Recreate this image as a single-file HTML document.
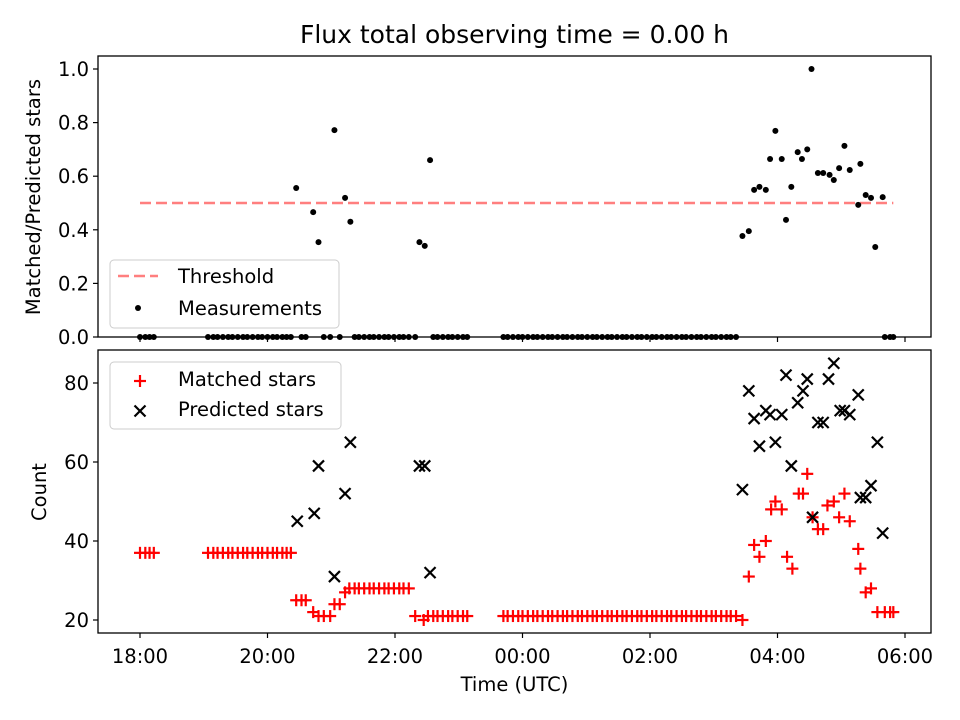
<!DOCTYPE html>
<html><head><meta charset="utf-8"><style>
html,body{margin:0;padding:0;background:#fff}
svg{display:block;font-family:"DejaVu Sans","Liberation Sans",sans-serif}
</style></head><body>
<svg id="chart" width="960" height="720" viewBox="0 0 960 720" xmlns="http://www.w3.org/2000/svg">
<rect width="960" height="720" fill="#fff"/>
<text x="514.5" y="43" font-size="25" text-anchor="middle" fill="#000">Flux total observing time = 0.00 h</text>
<g id="topPanel"></g><g id="botPanel"></g>
</svg>
<script>
// times in minutes after 18:00 UTC
const xTickMinutes=[0,120,240,360,480,600,720];
const xTickLabels=["18:00","20:00","22:00","00:00","02:00","04:00","06:00"];
const topTicks=[0,0.2,0.4,0.6,0.8,1.0];
const topTickLabels=["0.0","0.2","0.4","0.6","0.8","1.0"];
const botTicks=[20,40,60,80];
const threshold=0.5;
const thresholdRange=[0,709];
const ratioTimes=[147,163,168,183,193,198,263,268,273,567,573,578,583,589,593,598,604,608,613,619,623,628,632,638,643,649,653,658,663,668,676,678,683,688,692,699];
const ratioValues=[0.556,0.466,0.354,0.772,0.519,0.43,0.354,0.34,0.66,0.377,0.395,0.549,0.56,0.549,0.664,0.769,0.664,0.437,0.56,0.69,0.664,0.70,1.0,0.612,0.612,0.605,0.586,0.63,0.713,0.623,0.493,0.646,0.53,0.519,0.336,0.522];
const zeroTimes=[0,5,9,13,64,69,73,78,83,87,92,97,101,106,111,115,120,125,129,134,138,142,152,156,173,179,188,202,206,211,216,220,225,230,234,239,244,248,253,259,276,280,285,290,294,299,304,308,342,346,351,356,360,365,370,374,379,384,388,393,398,402,407,412,416,421,426,430,435,440,444,449,454,458,463,468,472,477,482,486,491,496,500,505,510,514,519,524,528,533,538,542,547,552,556,561,701,706,709];
const matchedTimes=[0,5,9,13,64,69,73,78,83,87,92,97,101,106,111,115,120,125,129,134,138,142,147,152,156,163,168,173,179,183,188,193,197,202,206,211,216,220,225,230,234,239,244,248,253,259,267,271,276,280,285,290,294,299,304,308,342,346,351,356,360,365,370,374,379,384,388,393,398,402,407,412,416,421,426,430,435,440,444,449,454,458,463,468,472,477,482,486,491,496,500,505,510,514,519,524,528,533,538,542,547,552,556,561,567,573,578,583,589,594,598,604,609,614,620,624,628,633,638,643,647,653,658,663,668,676,678,683,688,694,701,706,709];
const matchedValues=[37,37,37,37,37,37,37,37,37,37,37,37,37,37,37,37,37,37,37,37,37,37,25,25,25,22,21,21,21,24,24,27,28,28,28,28,28,28,28,28,28,28,28,28,28,21,20,21,21,21,21,21,21,21,21,21,21,21,21,21,21,21,21,21,21,21,21,21,21,21,21,21,21,21,21,21,21,21,21,21,21,21,21,21,21,21,21,21,21,21,21,21,21,21,21,21,21,21,21,21,21,21,21,21,20,31,39,36,40,48,50,48,36,33,52,52,57,46,43,43,49,50,46,52,45,38,33,27,28,22,22,22,22];
const predTimes=[148,164,168,183,193,198,263,268,273,567,573,578,583,589,593,598,604,608,613,619,624,628,633,638,643,648,653,659,663,668,676,678,683,688,694,699];
const predValues=[45,47,59,31,52,65,59,59,32,53,78,71,64,73,72,65,72,82,59,75,78,81,46,70,70,81,85,73,73,72,77,51,51,54,65,42];

const NS="http://www.w3.org/2000/svg";
function mk(tag,attrs,parent){const e=document.createElementNS(NS,tag);for(const k in attrs)e.setAttribute(k,attrs[k]);parent.appendChild(e);return e;}
const X=m=>140+m*63.75/60;
const YT=v=>337-268*v;
const YB=v=>620-(v-20)*237/60;
const L=98,R=931;
const topG=document.getElementById('topPanel'),botG=document.getElementById('botPanel');

// top panel
const th=mk('line',{x1:X(thresholdRange[0]),x2:X(thresholdRange[1]),y1:YT(threshold),y2:YT(threshold),stroke:'#ff7f7f','stroke-width':2.5,'stroke-dasharray':'11,5'},topG);


zeroTimes.forEach(t=>{const c=mk('circle',{cx:X(t),cy:YT(0),r:3,fill:'#000'},topG);

});
ratioTimes.forEach((t,i)=>{const c=mk('circle',{cx:X(t),cy:YT(ratioValues[i]),r:3,fill:'#000'},topG);

});
const f1=mk('rect',{x:L,y:56,width:R-L,height:281,fill:'none',stroke:'#000','stroke-width':1.3},topG);


topTicks.forEach((v,i)=>{mk('line',{x1:L-5,x2:L,y1:YT(v),y2:YT(v),stroke:'#000','stroke-width':1.2},topG);
const t=mk('text',{x:L-9,y:YT(v)+7,'font-size':19.5,'text-anchor':'end'},topG);t.textContent=topTickLabels[i];

});
xTickMinutes.forEach(m=>{mk('line',{x1:X(m),x2:X(m),y1:337,y2:342,stroke:'#000','stroke-width':1.2},topG);});
const yl1=mk('text',{x:0,y:0,'font-size':19.5,'text-anchor':'middle',transform:'translate(40,197) rotate(-90)'},topG);yl1.textContent='Matched/Predicted stars';


const lg1=mk('g',{},topG);


mk('rect',{x:110,y:260,width:229,height:68,rx:4,fill:'#fff','fill-opacity':0.8,stroke:'#ccc'},lg1);
mk('line',{x1:118,x2:158,y1:276,y2:276,stroke:'#ff7f7f','stroke-width':2.5,'stroke-dasharray':'11,5'},lg1);
mk('circle',{cx:138,cy:308,r:3,fill:'#000'},lg1);
let t1=mk('text',{x:178,y:283,'font-size':19.5},lg1);t1.textContent='Threshold';
let t2=mk('text',{x:178,y:315,'font-size':19.5},lg1);t2.textContent='Measurements';

// bottom panel
function plus(x,y,p){const g=mk('g',{stroke:'#f00','stroke-width':2.2},p);mk('line',{x1:x-6,x2:x+6,y1:y,y2:y},g);mk('line',{x1:x,x2:x,y1:y-6,y2:y+6},g);return g;}
function cross(x,y,p){const g=mk('g',{stroke:'#000','stroke-width':2.2},p);mk('line',{x1:x-5.5,x2:x+5.5,y1:y-5.5,y2:y+5.5},g);mk('line',{x1:x-5.5,x2:x+5.5,y1:y+5.5,y2:y-5.5},g);return g;}
matchedTimes.forEach((t,i)=>{const g=plus(X(t),YB(matchedValues[i]),botG);

});
predTimes.forEach((t,i)=>{const g=cross(X(t),YB(predValues[i]),botG);

});
const f2=mk('rect',{x:L,y:350,width:R-L,height:283,fill:'none',stroke:'#000','stroke-width':1.3},botG);


botTicks.forEach(v=>{mk('line',{x1:L-5,x2:L,y1:YB(v),y2:YB(v),stroke:'#000','stroke-width':1.2},botG);
const t=mk('text',{x:L-9,y:YB(v)+7,'font-size':19.5,'text-anchor':'end'},botG);t.textContent=String(v);

});
xTickMinutes.forEach((m,i)=>{mk('line',{x1:X(m),x2:X(m),y1:633,y2:638,stroke:'#000','stroke-width':1.2},botG);
const t=mk('text',{x:X(m),y:663,'font-size':19.5,'text-anchor':'middle'},botG);t.textContent=xTickLabels[i];

});
const xl=mk('text',{x:514.5,y:691,'font-size':19.5,'text-anchor':'middle'},botG);xl.textContent='Time (UTC)';


const yl2=mk('text',{x:0,y:0,'font-size':19.5,'text-anchor':'middle',transform:'translate(46,492) rotate(-90)'},botG);yl2.textContent='Count';


const lg2=mk('g',{},botG);


mk('rect',{x:110,y:362,width:231,height:67,rx:4,fill:'#fff','fill-opacity':0.8,stroke:'#ccc'},lg2);
plus(140,381,lg2);cross(140,411,lg2);
let t3=mk('text',{x:178,y:386,'font-size':19.5},lg2);t3.textContent='Matched stars';
let t4=mk('text',{x:178,y:416,'font-size':19.5},lg2);t4.textContent='Predicted stars';
</script>
</body></html>
